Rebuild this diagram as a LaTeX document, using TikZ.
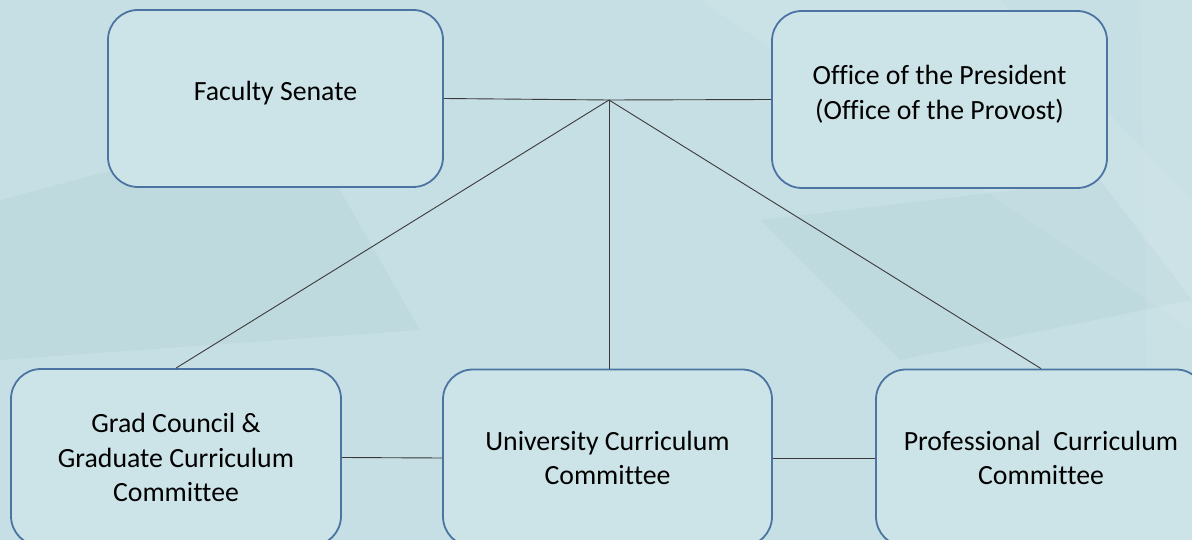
\documentclass[tikz,border=0pt]{standalone}
\usepackage{fontspec}
\setmainfont{Carlito}[Ligatures={NoCommon}]
\usetikzlibrary{calc}
\definecolor{bgcol}{HTML}{C6DFE4}
\definecolor{boxfill}{HTML}{CCE4E8}
\definecolor{boxline}{HTML}{4C74A2}
\definecolor{linkcol}{HTML}{3A3A3A}
\tikzset{
  orgbox/.style={draw=boxline, line width=1.8pt, fill=boxfill, rounded corners=30pt,
    minimum height=177pt, align=center, inner sep=0pt,
    font=\fontsize{27.8pt}{34.5pt}\selectfont, text=black},
  orgtext/.style={align=center, inner sep=0pt,
    font=\fontsize{27.8pt}{34.5pt}\selectfont, text=black},
  link/.style={draw=linkcol, line width=0.9pt}
}
\begin{document}
\begin{tikzpicture}[x=1pt,y=-1pt]
\useasboundingbox (0,0) rectangle (1192,540);
\clip (0,0) rectangle (1192,540);
\fill[bgcol] (0,0) rectangle (1192,540);
% subtle background patches
\fill[white, opacity=0.08] (700,0) -- (1000,0) -- (1192,200) -- (1192,330) -- cycle;
\fill[black!40!teal, opacity=0.03] (0,200) -- (300,120) -- (420,330) -- (0,360) -- cycle;
\fill[black!40!teal, opacity=0.03] (760,220) -- (1100,180) -- (1192,300) -- (900,360) -- cycle;
\fill[white, opacity=0.06] (1140,0) -- (1192,0) -- (1192,540) -- (1150,540) -- cycle;

\node[orgbox, minimum width=335pt] (senate) at (275.5,98.5) {};
\node[orgtext] (senatetxt) at ($(senate.center)+(0,-5)$) {Faculty Senate};
\node[orgbox, minimum width=335pt] (office) at (939.5,99.5) {};
\node[orgtext] (officetxt) at ($(office.center)+(0,-5)$) {Office of the President\\(Office of the Provost)};
\node[orgbox, minimum width=330pt] (grad) at (176,457.5) {Grad Council \&\\Graduate Curriculum\\Committee};
\node[orgbox, minimum width=329pt] (univ) at (607.5,458) {University Curriculum\\Committee};
\node[orgbox, minimum width=330pt] (prof) at (1041,458) {Professional\ \ Curriculum\\Committee};

\coordinate (hub) at (609,100);
\draw[link] (senate.east) -- (hub) -- (office.west);
\draw[link] (hub) -- (grad.north);
\draw[link] (hub) -- (hub |- univ.north);
\draw[link] (hub) -- (prof.north);
\draw[link] (grad.east) -- (univ.west);
\draw[link] (univ.east) -- (prof.west);
\end{tikzpicture}
\end{document}
